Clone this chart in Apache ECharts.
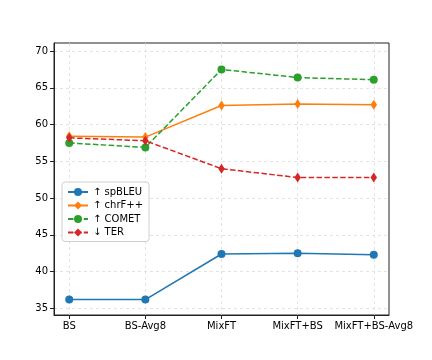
<!DOCTYPE html>
<html>
<head>
<meta charset="utf-8">
<script src="https://cdn.jsdelivr.net/npm/echarts@6/dist/echarts.min.js"></script>
<style>html,body{margin:0;padding:0;background:#fff}#c{width:432px;height:360px}</style>
</head>
<body>
<div id="c"></div>
<script>
const categories = ['BS', 'BS-Avg8', 'MixFT', 'MixFT+BS', 'MixFT+BS-Avg8'];
const spBLEU = [36.2, 36.2, 42.4, 42.5, 42.3];
const chrF = [58.4, 58.3, 62.6, 62.8, 62.7];
const comet = [57.5, 56.9, 67.5, 66.4, 66.1];
const ter = [58.2, 57.8, 54.0, 52.8, 52.8];
const yTicks = [35, 40, 45, 50, 55, 60, 65, 70];

const xIdx = categories.map((_, i) => i);
const pts = arr => arr.map((v, i) => [i, v]);
const font = 'DejaVu Sans';
const mk = (name, data, color, dashed, symbol, size) => ({
  name, type: 'line', data: pts(data),
  symbol, symbolSize: size, showSymbol: true,
  itemStyle: { color },
  lineStyle: { color, width: 1.5, type: dashed ? [5.5, 2.4] : 'solid' },
  emphasis: { disabled: true }, animation: false
});

const chart = echarts.init(document.getElementById('c'));
chart.setOption({
  animation: false,
  backgroundColor: '#fff',
  grid: { left: 54, top: 43, width: 335, height: 272, show: true, borderColor: '#222', borderWidth: 1, backgroundColor: 'transparent' },
  xAxis: {
    type: 'value', min: -0.2, max: 4.2,
    axisLine: { show: true, onZero: false, lineStyle: { color: '#222' } },
    axisTick: { show: true, customValues: xIdx, length: 4, lineStyle: { color: '#222' } },
    axisLabel: { customValues: xIdx, formatter: v => categories[Math.round(v)] || '', color: '#000', fontFamily: font, fontSize: 10, margin: 6 },
    splitLine: { show: true, lineStyle: { color: '#dcdcdc', type: [3, 3], width: 0.8 } }
  },
  yAxis: {
    type: 'value', min: 34.1, max: 71.1,
    axisLine: { show: true, onZero: false, lineStyle: { color: '#222' } },
    axisTick: { show: true, customValues: yTicks, length: 4, lineStyle: { color: '#222' } },
    axisLabel: { customValues: yTicks, color: '#000', fontFamily: font, fontSize: 10, margin: 6 },
    splitLine: { show: true, lineStyle: { color: '#dcdcdc', type: [3, 3], width: 0.8 } }
  },
  legend: {
    orient: 'vertical', left: 62, top: 182,
    itemWidth: 20, itemHeight: 10, itemGap: 3.5,
    padding: [5, 6, 4, 5],
    backgroundColor: 'rgba(255,255,255,0.85)', borderColor: '#d0d0d0', borderWidth: 1, borderRadius: 3,
    textStyle: { fontFamily: font, fontSize: 10, color: '#000' },
    data: ['↑ spBLEU', '↑ chrF++', '↑ COMET', '↓ TER']
  },
  series: [
    mk('↑ spBLEU', spBLEU, '#1f77b4', false, 'circle', 8),
    mk('↑ chrF++', chrF, '#ff7f0e', false, 'diamond', [6.5, 10]),
    mk('↑ COMET', comet, '#2ca02c', true, 'circle', 8),
    mk('↓ TER', ter, '#d62728', true, 'diamond', [6.5, 10])
  ]
});
</script>
</body>
</html>
